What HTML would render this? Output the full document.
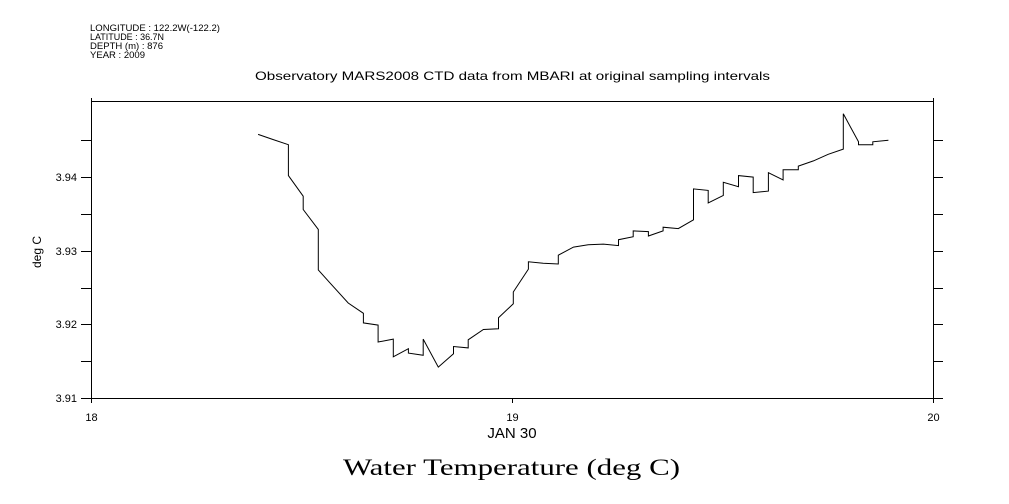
<!DOCTYPE html>
<html><head><meta charset="utf-8"><style>
body{margin:0;background:#fff;}
svg{display:block;font-family:"Liberation Sans",sans-serif;}
</style></head><body>
<svg id="chart" width="1009" height="504" viewBox="0 0 1009 504">
<g font-size="9" fill="#000">
<text x="90" y="31" textLength="130" lengthAdjust="spacingAndGlyphs">LONGITUDE : 122.2W(-122.2)</text>
<text x="90" y="40" textLength="74" lengthAdjust="spacingAndGlyphs">LATITUDE : 36.7N</text>
<text x="90" y="49" textLength="73" lengthAdjust="spacingAndGlyphs">DEPTH (m) : 876</text>
<text x="90" y="58" textLength="55" lengthAdjust="spacingAndGlyphs">YEAR : 2009</text>
</g>
<text x="255" y="80" font-size="12" textLength="515" lengthAdjust="spacingAndGlyphs">Observatory MARS2008 CTD data from MBARI at original sampling intervals</text>
<text transform="translate(41,252) rotate(-90)" font-size="12" text-anchor="middle">deg C</text>
<text x="512" y="438" font-size="15" text-anchor="middle">JAN 30</text>
<text x="343" y="475" font-size="23" font-family="Liberation Serif,serif" textLength="337" lengthAdjust="spacingAndGlyphs">Water Temperature (deg C)</text>
<g id="axes"></g>
<g id="series"></g>
</svg>
<script>
const xs=[18.397,18.433,18.469,18.469,18.504,18.504,18.540,18.540,18.568,18.611,18.647,18.647,18.682,18.682,18.718,18.718,18.754,18.754,18.789,18.789,18.825,18.861,18.861,18.896,18.896,18.932,18.968,18.968,19.003,19.003,19.039,19.039,19.074,19.110,19.110,19.146,19.181,19.217,19.253,19.253,19.288,19.288,19.324,19.324,19.359,19.359,19.395,19.431,19.431,19.466,19.466,19.502,19.502,19.538,19.538,19.573,19.573,19.609,19.609,19.644,19.644,19.680,19.680,19.716,19.751,19.787,19.787,19.823,19.823,19.857,19.857,19.894];
const ys=[3.9458,3.9451,3.9444,3.9402,3.9374,3.9356,3.9329,3.9274,3.9256,3.9229,3.9215,3.9202,3.9199,3.9176,3.9180,3.9156,3.9167,3.9161,3.9158,3.9180,3.9142,3.9160,3.9170,3.9168,3.9179,3.9193,3.9194,3.9209,3.9228,3.9244,3.9275,3.9285,3.9283,3.9282,3.9294,3.9305,3.9308,3.9309,3.9307,3.9315,3.9319,3.9327,3.9326,3.9320,3.9327,3.9332,3.9330,3.9342,3.9384,3.9382,3.9365,3.9375,3.9393,3.9387,3.9402,3.9400,3.9379,3.9381,3.9406,3.9396,3.9410,3.9410,3.9415,3.9422,3.9431,3.9438,3.9486,3.9448,3.9444,3.9444,3.9448,3.9450];
const xTicks=[18,19,20];
const yTicks=[3.91,3.92,3.93,3.94];
const yMinor=[3.915,3.925,3.935,3.945];
const X0=18,X1=20,Y0=3.91,Y1=3.9502;
const L=91,R=933,T=102,B=398;
const sx=v=>L+(v-X0)/(X1-X0)*(R-L);
const sy=v=>B-(v-Y0)/(Y1-Y0)*(B-T);
const NS='http://www.w3.org/2000/svg';
const ax=document.getElementById('axes');
function ln(x1,y1,x2,y2,name){const e=document.createElementNS(NS,'line');e.setAttribute('x1',x1);e.setAttribute('y1',y1);e.setAttribute('x2',x2);e.setAttribute('y2',y2);e.setAttribute('stroke','#000');e.setAttribute('stroke-width','1');


ax.appendChild(e);}
function tx(x,y,s,anchor,name){const e=document.createElementNS(NS,'text');e.setAttribute('x',x);e.setAttribute('y',y);e.setAttribute('font-size','11');e.setAttribute('text-anchor',anchor);e.textContent=s;


ax.appendChild(e);}
ln(L,T-0.5,R,T-0.5,'plot-top-border');
ln(L,B+0.5,R+10,B+0.5,'x-axis');
ln(L+0.5,T-4,L+0.5,B+5,'y-axis-left');
ln(R+0.5,T-4,R+0.5,B+0.5,'y-axis-right');
xTicks.forEach(v=>{const x=Math.round(sx(v))+0.5;ln(x,B,x,B+5,'x-tick');tx(x,421,String(v),'middle','x-tick-label');});
yTicks.concat(yMinor).forEach(v=>{const y=Math.round(sy(v))+0.5;ln(L-10,y,L,y,'y-tick-left');ln(R,y,R+10,y,'y-tick-right');});
yTicks.forEach(v=>{tx(L-14,Math.round(sy(v))+4,v.toFixed(2),'end','y-tick-label');});
const p=document.createElementNS(NS,'polyline');
p.setAttribute('points',xs.map((v,i)=>sx(v).toFixed(1)+','+sy(ys[i]).toFixed(1)).join(' '));
p.setAttribute('fill','none');p.setAttribute('stroke','#000');p.setAttribute('stroke-width','1');


document.getElementById('series').appendChild(p);
</script>
</body></html>
